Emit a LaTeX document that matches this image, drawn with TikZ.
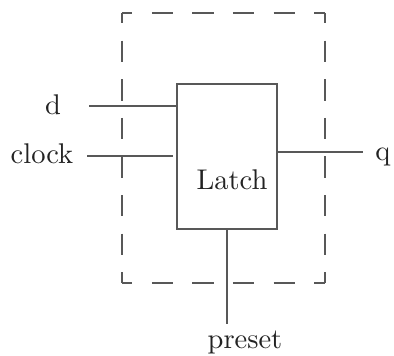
\documentclass[tikz,border=0pt]{standalone}
\usetikzlibrary{calc}
\definecolor{linec}{RGB}{88,88,88}
\definecolor{textc}{RGB}{35,35,35}
\begin{document}
\begin{tikzpicture}[x=1pt,y=-1pt,
  wire/.style={draw=linec,line width=1.7pt},
  hdash/.style={draw=linec,line width=1.7pt,line cap=square,dash pattern=on 21.3pt off 19.3pt,dash phase=10.65pt},
  vdash/.style={draw=linec,line width=1.7pt,line cap=square,dash pattern=on 21.3pt off 17.27pt,dash phase=10.65pt},
  lbl/.style={text=textc,font=\fontsize{10}{12}\selectfont,inner sep=0pt,anchor=base,scale=2.85,transform shape},
  box/.style={draw=linec,line width=1.7pt,minimum width=100pt,minimum height=145pt,inner sep=0pt}]
\useasboundingbox (0,0) rectangle (394,356);
\node[minimum width=203pt,minimum height=270pt,inner sep=0pt] (outer) at (223.5,148) {};
\draw[hdash] (outer.north west) -- (outer.north east);
\draw[hdash] (outer.south west) -- (outer.south east);
\draw[vdash] (outer.north west) -- (outer.south west);
\draw[vdash] (outer.north east) -- (outer.south east);
\node[box] (latch) at (227,156.5) {};
\node[lbl] (latchtext) at (232,189) {Latch};
\node[lbl] (d) at (53,114) {d};
\node[lbl] (clock) at (42,163) {clock};
\node[lbl] (q) at (383,160) {q};
\node[lbl] (preset) at (245,348) {preset};
\coordinate (dstart) at (89,106);
\coordinate (cstart) at (87,156);
\coordinate (qend) at (363,152);
\coordinate (pend) at (227,324);
\draw[wire] (dstart) -- (dstart -| latch.west);
\draw[wire,shorten >=3pt] (cstart) -- (cstart -| latch.west);
\draw[wire] (qend -| latch.east) -- (qend);
\draw[wire] (latch.south) -- (pend);
\end{tikzpicture}
\end{document}
